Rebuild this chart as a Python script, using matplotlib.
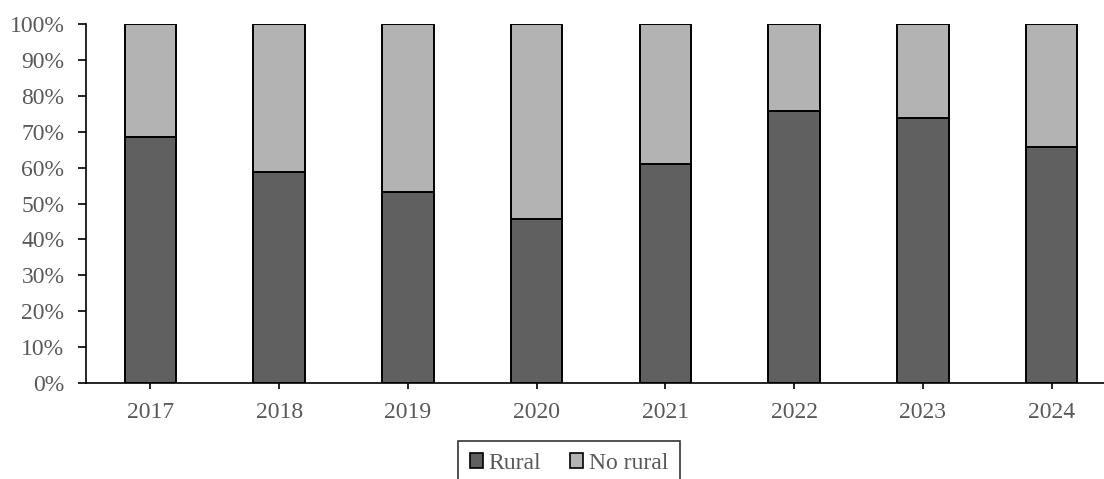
import matplotlib
matplotlib.use('Agg')
import matplotlib.pyplot as plt
import numpy as np
from matplotlib.patches import Patch
from matplotlib.ticker import PercentFormatter

years = ['2017', '2018', '2019', '2020', '2021', '2022', '2023', '2024']
rural = [68.6, 58.8, 53.2, 45.6, 60.9, 75.8, 73.9, 65.8]
no_rural = [100 - v for v in rural]

plt.rcParams['font.family'] = ['Liberation Serif', 'DejaVu Serif']
plt.rcParams['font.size'] = 17
txt_col = '#595959'

W, H = 1104, 479
fig = plt.figure(figsize=(W / 100, H / 100), dpi=100)
# axes slightly wider than the figure: the reference is cropped on the right
ax = fig.add_axes([86 / W, 1 - 383 / H, (1116 - 86) / W, (383 - 24) / H])

x = np.arange(len(years))
ax.bar(x, rural, width=0.4, color='#606060', edgecolor='black', linewidth=1.4, zorder=2)
ax.bar(x, no_rural, bottom=rural, width=0.4, color='#b3b3b3', edgecolor='black', linewidth=1.4, zorder=2)

ax.set_xlim(-0.5, len(years) - 0.5)
ax.set_ylim(0, 100)
ax.set_yticks(np.arange(0, 101, 10))
ax.yaxis.set_major_formatter(PercentFormatter(decimals=0))
ax.set_xticks(x)
ax.set_xticklabels(years)

for s in ['top', 'right']:
    ax.spines[s].set_visible(False)
for s in ['left', 'bottom']:
    ax.spines[s].set_color('black')
    ax.spines[s].set_linewidth(1.2)

ax.tick_params(axis='both', colors='black', labelcolor=txt_col, width=1.2)
ax.tick_params(axis='y', length=5.5, pad=10)
ax.tick_params(axis='x', length=4, pad=10)

handles = [Patch(facecolor='#606060', edgecolor='black', linewidth=1.2, label='Rural'),
           Patch(facecolor='#b3b3b3', edgecolor='black', linewidth=1.2, label='No rural')]
leg = fig.legend(handles=handles, loc='upper center', bbox_to_anchor=(569 / W, 1 - 441 / H),
                 ncol=2, frameon=True, fancybox=False, edgecolor='black',
                 handlelength=0.55, handleheight=0.55, handletextpad=0.25,
                 columnspacing=1.2, borderpad=0.5, borderaxespad=0, labelcolor=txt_col)
leg.get_frame().set_linewidth(1.2)

fig.savefig('out.png', dpi=100)
